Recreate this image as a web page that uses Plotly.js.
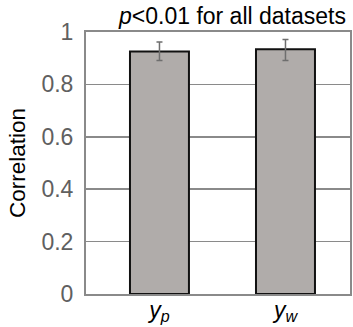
<!DOCTYPE html>
<html>
<head>
<meta charset="utf-8">
<script src="https://cdn.plot.ly/plotly-3.0.1.min.js"></script>
<style>
  html, body { margin: 0; padding: 0; background: #fff; }
  #chart { width: 353px; height: 327px; }
</style>
</head>
<body>
<div id="chart"></div>
<script>
// Correlation per target variable, with error bars
const categories = ['<i>y</i><sub><i>p</i></sub>', '<i>y</i><sub><i>w</i></sub>'];
const positions = [0, 1];
const correlation = [0.926, 0.934];
const errorPlus = [0.036, 0.037];
const errorMinus = [0.035, 0.043];
const yTickVals = [0, 0.2, 0.4, 0.6, 0.8, 1];
const yTickText = ['0', '0.2', '0.4', '0.6', '0.8', '1'];

const frameColor = '#8a8a8a';

const trace = {
  type: 'bar',
  x: positions,
  y: correlation,
  width: 0.468,
  marker: { color: '#b0acaa', line: { color: '#111111', width: 2 } },
  error_y: {
    type: 'data',
    symmetric: false,
    array: errorPlus,
    arrayminus: errorMinus,
    color: '#6e6e6e',
    thickness: 1.5,
    width: 3
  },
  hoverinfo: 'none'
};

const layout = {
  width: 353,
  height: 327,
  margin: { l: 86, r: 3, t: 32, b: 33 },
  paper_bgcolor: '#ffffff',
  plot_bgcolor: '#ffffff',
  font: { family: 'Liberation Sans, Arial, sans-serif', color: '#000' },
  showlegend: false,
  xaxis: {
    range: [-0.583, 1.512],
    tickvals: positions,
    ticktext: categories,
    tickfont: { size: 23, color: '#000' },
    showgrid: false,
    zeroline: false,
    showline: true,
    mirror: true,
    linecolor: frameColor,
    linewidth: 2,
    ticks: '',
    ticklabelstandoff: -6,
    fixedrange: true
  },
  yaxis: {
    range: [0, 1],
    tickvals: yTickVals,
    ticktext: yTickText,
    tickfont: { size: 23, color: '#606060' },
    showgrid: true,
    gridcolor: frameColor,
    gridwidth: 1.5,
    zeroline: false,
    showline: true,
    mirror: true,
    linecolor: frameColor,
    linewidth: 2,
    ticks: '',
    ticklabelstandoff: 6,
    title: { text: 'Correlation', font: { size: 22.5, color: '#000' }, standoff: 10 },
    fixedrange: true
  },
  annotations: [{
    text: '<i>p</i><0.01 for all datasets',
    xref: 'paper', yref: 'paper',
    x: 0.994, y: 1,
    xanchor: 'right', yanchor: 'bottom',
    yshift: 1,
    showarrow: false,
    font: { size: 23, color: '#000' }
  }]
};

Plotly.newPlot('chart', [trace], layout, { displayModeBar: false, staticPlot: true });
</script>
</body>
</html>
